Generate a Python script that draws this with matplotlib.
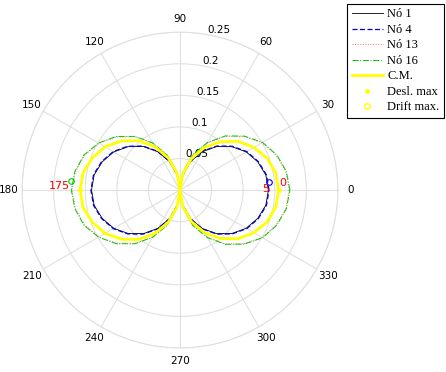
import numpy as np
import matplotlib
matplotlib.use("Agg")
import matplotlib.pyplot as plt
from matplotlib.lines import Line2D

# angles in degrees (closed curve)
theta_deg = np.arange(0, 361, 10)

# radial values, every 10 degrees
no1 = [0.140, 0.138, 0.131, 0.121, 0.107, 0.090, 0.070, 0.048, 0.024, 0.000,
       0.024, 0.048, 0.070, 0.090, 0.107, 0.121, 0.131, 0.138, 0.140,
       0.138, 0.131, 0.121, 0.107, 0.090, 0.070, 0.048, 0.024, 0.000,
       0.024, 0.048, 0.070, 0.090, 0.107, 0.121, 0.131, 0.138, 0.140]
no4 = [0.141, 0.139, 0.132, 0.122, 0.108, 0.091, 0.071, 0.048, 0.024, 0.000,
       0.024, 0.048, 0.071, 0.091, 0.108, 0.122, 0.132, 0.139, 0.141,
       0.139, 0.132, 0.122, 0.108, 0.091, 0.071, 0.048, 0.024, 0.000,
       0.024, 0.048, 0.071, 0.091, 0.108, 0.122, 0.132, 0.139, 0.141]
no13 = [0.173, 0.170, 0.162, 0.150, 0.132, 0.111, 0.086, 0.059, 0.030, 0.000,
        0.030, 0.059, 0.086, 0.110, 0.131, 0.148, 0.161, 0.168, 0.171,
        0.168, 0.161, 0.148, 0.131, 0.110, 0.086, 0.059, 0.030, 0.000,
        0.030, 0.059, 0.086, 0.111, 0.132, 0.150, 0.162, 0.170, 0.173]
no16 = [0.174, 0.171, 0.163, 0.151, 0.133, 0.112, 0.087, 0.060, 0.030, 0.000,
        0.030, 0.059, 0.086, 0.111, 0.132, 0.149, 0.162, 0.169, 0.172,
        0.169, 0.162, 0.149, 0.132, 0.111, 0.086, 0.059, 0.030, 0.000,
        0.030, 0.060, 0.087, 0.112, 0.133, 0.151, 0.163, 0.171, 0.174]
cm = [0.156, 0.154, 0.147, 0.135, 0.120, 0.100, 0.078, 0.053, 0.027, 0.000,
      0.027, 0.054, 0.079, 0.102, 0.121, 0.137, 0.148, 0.156, 0.158,
      0.156, 0.148, 0.137, 0.121, 0.102, 0.079, 0.054, 0.027, 0.000,
      0.027, 0.053, 0.078, 0.100, 0.120, 0.135, 0.147, 0.154, 0.156]

# max markers (angle deg, radius)
desl_max_ang = [0, 180]
desl_max_r = [0.156, 0.158]
drift_max_ang = [5, 175]
drift_max_r = [0.141, 0.173]
drift_max_col = ['blue', '#00cc00']

# red angle annotations
ann_text = ['5', '0', '175']
ann_ang = [1.0, 4.0, 178.0]
ann_r = [0.135, 0.163, 0.174]
ann_ha = ['center', 'center', 'right']

theta_ticks = list(range(0, 360, 30))
theta_labels = [str(t) for t in theta_ticks]
r_ticks = [0.05, 0.1, 0.15, 0.2, 0.25]
r_labels = ['0.05', '0.1', '0.15', '0.2', '0.25']

fig = plt.figure(figsize=(4.46, 3.72), dpi=100)
ax = fig.add_axes([0.0493, 0.0645, 0.7085, 0.849], projection='polar')

th = np.deg2rad(theta_deg)
l1, = ax.plot(th, no1, color='k', lw=0.6, label='Nó 1')
l4, = ax.plot(th, no4, color='#0000dd', lw=0.9, ls='--', dashes=(4, 2), label='Nó 4')
l13, = ax.plot(th, no13, color='#ff7070', lw=0.7, ls=':', label='Nó 13')
l16, = ax.plot(th, no16, color='#00cc00', lw=0.7, ls='-.', label='Nó 16')
lcm, = ax.plot(th, cm, color='#ffff00', lw=2.0, label='C.M.')

ax.plot(np.deg2rad(desl_max_ang), desl_max_r, ls='none', marker='.',
        color='#ffff00', ms=5)
for a, r, c in zip(drift_max_ang, drift_max_r, drift_max_col):
    ax.plot(np.deg2rad(a), r, ls='none', marker='o', mfc='none', mec=c,
            ms=4, mew=0.8)
for t, a, r, h in zip(ann_text, ann_ang, ann_r, ann_ha):
    ax.text(np.deg2rad(a), r, t, color='red', fontsize=8, ha=h, va='center')

ax.set_ylim(0, 0.25)
ax.set_yticks(r_ticks)
ax.set_yticklabels(r_labels, fontsize=7.5)
ax.set_rlabel_position(80)
ax.set_thetagrids(theta_ticks, theta_labels, fontsize=7.5)
ax.tick_params(axis='x', pad=-1)
ax.grid(color='#e0e0e0', lw=0.8)
ax.spines['polar'].set_color('#e0e0e0')
ax.spines['polar'].set_linewidth(0.8)

handles = [l1, l4, l13, l16, lcm,
           Line2D([], [], ls='none', marker='.', color='#ffff00', ms=5),
           Line2D([], [], ls='none', marker='o', mfc='none', mec='#ffff00', ms=4)]
labels = ['Nó 1', 'Nó 4', 'Nó 13', 'Nó 16', 'C.M.', 'Desl. max', 'Drift max.']
leg = fig.legend(handles, labels, loc='upper right',
                 bbox_to_anchor=(444 / 446, 1 - 4 / 372), borderaxespad=0,
                 prop={'family': 'Liberation Serif', 'size': 9},
                 handlelength=2.5, handletextpad=0.35, labelspacing=0.28,
                 borderpad=0.35, fancybox=False, framealpha=1)
leg.get_frame().set_edgecolor('k')
leg.get_frame().set_linewidth(0.8)

fig.savefig('out.png', dpi=100)
